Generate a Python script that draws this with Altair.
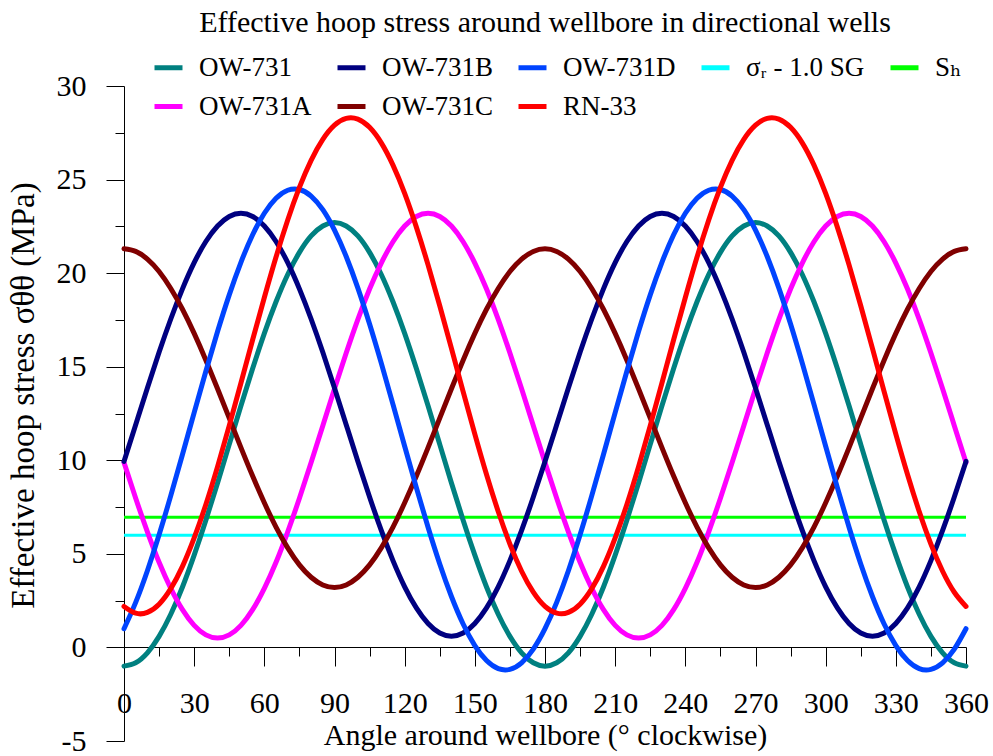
import altair as alt
import pandas as pd

FONT = "Liberation Serif, Times New Roman, DejaVu Serif, serif"

# ---------------- data (every 5 degrees) ----------------
angles = [0, 5, 10, 15, 20, 25, 30, 35, 40, 45, 50, 55, 60, 65, 70, 75, 80, 85, 90,
          95, 100, 105, 110, 115, 120, 125, 130, 135, 140, 145, 150, 155, 160, 165, 170, 175, 180,
          185, 190, 195, 200, 205, 210, 215, 220, 225, 230, 235, 240, 245, 250, 255, 260, 265, 270,
          275, 280, 285, 290, 295, 300, 305, 310, 315, 320, 325, 330, 335, 340, 345, 350, 355, 360]

ow731 = [-1.00, -0.82, -0.29, 0.59, 1.77, 3.23, 4.93, 6.80, 8.79, 10.85, 12.91, 14.90, 16.78,
         18.47, 19.93, 21.11, 21.99, 22.52, 22.70, 22.52, 21.99, 21.11, 19.93, 18.47, 16.78, 14.90,
         12.91, 10.85, 8.79, 6.80, 4.93, 3.23, 1.77, 0.59, -0.29, -0.82, -1.00,
         -0.82, -0.29, 0.59, 1.77, 3.23, 4.93, 6.80, 8.79, 10.85, 12.91, 14.90, 16.78,
         18.47, 19.93, 21.11, 21.99, 22.52, 22.70, 22.52, 21.99, 21.11, 19.93, 18.47, 16.78, 14.90,
         12.91, 10.85, 8.79, 6.80, 4.93, 3.23, 1.77, 0.59, -0.29, -0.82, -1.00]

ow731a = [9.88, 7.97, 6.18, 4.55, 3.16, 2.02, 1.18, 0.67, 0.50, 0.67, 1.18, 2.02, 3.16, 4.55,
          6.18, 7.97, 9.88, 11.85, 13.82, 15.73, 17.53, 19.15, 20.54, 21.68, 22.52, 23.03, 23.20,
          23.03, 22.52, 21.68, 20.54, 19.15, 17.53, 15.73, 13.82, 11.85, 9.88,
          7.97, 6.18, 4.55, 3.16, 2.02, 1.18, 0.67, 0.50, 0.67, 1.18, 2.02, 3.16, 4.55,
          6.18, 7.97, 9.88, 11.85, 13.82, 15.73, 17.53, 19.15, 20.54, 21.68, 22.52, 23.03, 23.20,
          23.03, 22.52, 21.68, 20.54, 19.15, 17.53, 15.73, 13.82, 11.85, 9.88]

ow731b = [9.94, 11.90, 13.86, 15.77, 17.55, 19.16, 20.56, 21.69, 22.52, 23.03, 23.20, 23.03,
          22.52, 21.69, 20.56, 19.16, 17.55, 15.77, 13.86, 11.90, 9.94, 8.04, 6.25, 4.64, 3.24,
          2.11, 1.28, 0.77, 0.60, 0.77, 1.28, 2.11, 3.24, 4.64, 6.25, 8.04, 9.94,
          11.90, 13.86, 15.77, 17.55, 19.16, 20.56, 21.69, 22.52, 23.03, 23.20, 23.03,
          22.52, 21.69, 20.56, 19.16, 17.55, 15.77, 13.86, 11.90, 9.94, 8.04, 6.25, 4.64, 3.24,
          2.11, 1.28, 0.77, 0.60, 0.77, 1.28, 2.11, 3.24, 4.64, 6.25, 8.04, 9.94]

ow731c = [21.30, 21.16, 20.75, 20.09, 19.18, 18.07, 16.78, 15.35, 13.82, 12.25, 10.68, 9.16,
          7.73, 6.43, 5.32, 4.41, 3.75, 3.34, 3.20, 3.34, 3.75, 4.41, 5.32, 6.43, 7.73, 9.16,
          10.68, 12.25, 13.82, 15.35, 16.78, 18.07, 19.18, 20.09, 20.75, 21.16, 21.30,
          21.16, 20.75, 20.09, 19.18, 18.07, 16.78, 15.35, 13.82, 12.25, 10.68, 9.16,
          7.73, 6.43, 5.32, 4.41, 3.75, 3.34, 3.20, 3.34, 3.75, 4.41, 5.32, 6.43, 7.73, 9.16,
          10.68, 12.25, 13.82, 15.35, 16.78, 18.07, 19.18, 20.09, 20.75, 21.16, 21.30]

ow731d = [1.00, 2.41, 4.10, 6.02, 8.11, 10.31, 12.55, 14.76, 16.88, 18.84, 20.58, 22.05, 23.20,
          24.00, 24.43, 24.47, 24.12, 23.39, 22.30, 20.89, 19.20, 17.28, 15.19, 12.99, 10.75,
          8.54, 6.42, 4.46, 2.72, 1.25, 0.10, -0.70, -1.13, -1.17, -0.82, -0.09, 1.00,
          2.41, 4.10, 6.02, 8.11, 10.31, 12.55, 14.76, 16.88, 18.84, 20.58, 22.05, 23.20,
          24.00, 24.43, 24.47, 24.12, 23.39, 22.30, 20.89, 19.20, 17.28, 15.19, 12.99, 10.75,
          8.54, 6.42, 4.46, 2.72, 1.25, 0.10, -0.70, -1.13, -1.17, -0.82, -0.09, 1.00]

rn33 = [2.19, 1.83, 1.87, 2.31, 3.14, 4.33, 5.85, 7.64, 9.66, 11.85, 14.13, 16.44, 18.70,
        20.86, 22.84, 24.58, 26.03, 27.15, 27.91, 28.27, 28.23, 27.79, 26.96, 25.77, 24.26,
        22.46, 20.44, 18.26, 15.98, 13.67, 11.40, 9.24, 7.26, 5.52, 4.07, 2.95, 2.19,
        1.83, 1.87, 2.31, 3.14, 4.33, 5.85, 7.64, 9.66, 11.85, 14.13, 16.44, 18.70,
        20.86, 22.84, 24.58, 26.03, 27.15, 27.91, 28.27, 28.23, 27.79, 26.96, 25.77, 24.26,
        22.46, 20.44, 18.26, 15.98, 13.67, 11.40, 9.24, 7.26, 5.52, 4.07, 2.95, 2.19]

const_angles = [0, 360]
sigma_r = [6.0, 6.0]
s_h = [6.95, 6.95]

curve_names = ["OW-731", "OW-731A", "OW-731B", "OW-731C", "OW-731D", "RN-33"]
curve_values = [ow731, ow731a, ow731b, ow731c, ow731d, rn33]
const_names = ["σᵣ - 1.0 SG", "Sₕ"]
const_values = [sigma_r, s_h]

for vals in curve_values:
    assert len(vals) == len(angles), len(vals)

# legend order (row-major, 5 columns)
series_order = ["OW-731", "OW-731B", "OW-731D", "σᵣ - 1.0 SG", "Sₕ",
                "OW-731A", "OW-731C", "RN-33"]
series_colors = ["#008080", "#000080", "#0044FF", "#00FFFF", "#00FF00",
                 "#FF00FF", "#800000", "#FF0000"]

x_major = [0, 30, 60, 90, 120, 150, 180, 210, 240, 270, 300, 330, 360]
x_minor = [15, 45, 75, 105, 135, 165, 195, 225, 255, 285, 315, 345]
y_major = [-5, 0, 5, 10, 15, 20, 25, 30]
y_minor = [2.5, 7.5, 12.5, 17.5, 22.5, 27.5]

# ---------------- tables ----------------
rows = []
for name, vals in zip(curve_names, curve_values):
    for a, v in zip(angles, vals):
        rows.append({"angle": a, "value": v, "series": name})
curves_df = pd.DataFrame(rows)

crow = []
for name, vals in zip(const_names, const_values):
    for a, v in zip(const_angles, vals):
        crow.append({"angle": a, "value": v, "series": name})
const_df = pd.DataFrame(crow)

# ---------------- scales / axes ----------------
sx = alt.Scale(domain=[0, 360], nice=False, zero=False)
sy = alt.Scale(domain=[-5, 30], nice=False, zero=False)
color_scale = alt.Scale(domain=series_order, range=series_colors)

legend = alt.Legend(
    title=None, orient="none", legendX=28, legendY=-35, direction="horizontal", columns=5,
    columnPadding=15, rowPadding=9, labelFont=FONT, labelFontSize=27, labelColor="black",
    labelOffset=14, symbolType="stroke", symbolSize=784, symbolStrokeWidth=5,
    labelLimit=300, padding=0,
)

x_axis = alt.Axis(
    values=x_major, orient="bottom", offset=-94, tickSize=19, labelPadding=22,
    labelFont=FONT, labelFontSize=30, labelColor="black", labelFlush=False, labelOverlap=False,
    labelExpr="'' + datum.value", domainColor="black", tickColor="black", grid=False,
    titleFont=FONT, titleFontSize=30, titleFontWeight="normal", titleColor="black",
    titleX=421, titleY=97, titleAlign="center", titleBaseline="alphabetic",
)
y_axis = alt.Axis(
    values=y_major, orient="left", tickSize=18, labelPadding=20,
    labelFont=FONT, labelFontSize=30, labelColor="black", labelOverlap=False, labelFlush=False,
    labelExpr="'' + datum.value", domainColor="black", tickColor="black", grid=False,
    titleFont=FONT, titleFontSize=33, titleFontWeight="normal", titleColor="black",
    titleAngle=270, titleX=-91, titleY=309, titleAlign="center", titleBaseline="alphabetic",
)
x_axis_minor = alt.Axis(values=x_minor, orient="bottom", offset=-94, tickSize=9, labels=False,
                        domain=False, grid=False, tickColor="black")
y_axis_minor = alt.Axis(values=y_minor, orient="left", tickSize=9, labels=False,
                        domain=False, grid=False, tickColor="black")

curves = alt.Chart(curves_df).mark_line(strokeWidth=5, interpolate="natural", strokeCap="round").encode(
    x=alt.X("angle:Q", scale=sx, axis=x_axis, title="Angle around wellbore (° clockwise)"),
    y=alt.Y("value:Q", scale=sy, axis=y_axis, title="Effective hoop stress σθθ (MPa)"),
    color=alt.Color("series:N", scale=color_scale, legend=legend),
)

consts = alt.Chart(const_df).mark_line(strokeWidth=3).encode(
    x=alt.X("angle:Q", scale=sx, axis=None),
    y=alt.Y("value:Q", scale=sy, axis=None),
    color=alt.Color("series:N", scale=color_scale, legend=legend),
)

minor = alt.Chart(curves_df).mark_point(opacity=0).encode(
    x=alt.X("angle:Q", scale=sx, axis=x_axis_minor, title=None),
    y=alt.Y("value:Q", scale=sy, axis=y_axis_minor, title=None),
)

chart = alt.layer(consts, curves, minor).resolve_axis(
    x="independent", y="independent"
).properties(
    width=842,
    height=655,
    padding={"left": 124, "top": 86, "right": 27, "bottom": 15},
    autosize=alt.AutoSizeParams(type="none"),
    background="white",
    title=alt.TitleParams(
        text="Effective hoop stress around wellbore in directional wells",
        font=FONT, fontSize=30, fontWeight="normal", color="black",
        anchor="middle", frame="group", offset=13,
    ),
).configure_view(stroke=None)

chart.save("out.html", embed_options={"renderer": "svg", "actions": False})
